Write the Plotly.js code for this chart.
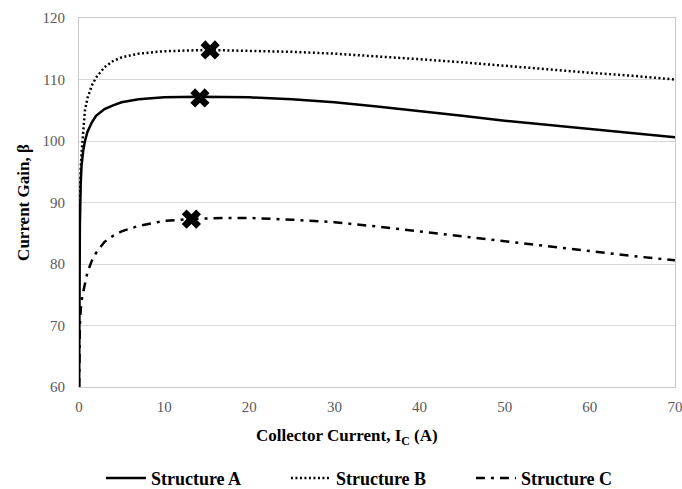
<!DOCTYPE html>
<html>
<head>
<meta charset="utf-8">
<script src="https://cdn.plot.ly/plotly-3.0.1.min.js"></script>
<style>html,body{margin:0;padding:0;background:#fff;}#chart{width:682px;height:489px;}</style>
</head>
<body>
<div id="chart"></div>
<script>
var xA = [0.02,0.05,0.1,0.2,0.3,0.5,0.7,1,1.5,2,3,4,5,7,10,14,20,25,30,35,40,45,50,55,60,65,70];
var yA = [60,75,86,93,96,98.5,100,101.5,103,104.1,105.2,105.8,106.3,106.8,107.1,107.2,107.1,106.8,106.3,105.6,104.9,104.1,103.3,102.6,101.9,101.2,100.6];
var xB = [0.05,0.1,0.2,0.3,0.5,0.7,1,1.5,2,3,4,5,7,10,15,20,25,30,35,40,45,50,55,60,65,70];
var yB = [88,92,95.5,98,102,105,107,109,110.3,112,113,113.6,114.2,114.6,114.8,114.7,114.5,114.2,113.8,113.3,112.8,112.2,111.7,111.1,110.6,110.0];
var xC = [0.02,0.05,0.1,0.2,0.3,0.5,0.7,1,1.5,2,3,4,5,7,10,13,17,20,25,30,35,40,45,50,55,60,65,70];
var yC = [60,66,70,72.5,74,75.5,77,78.7,80.5,81.8,83.6,84.6,85.3,86.2,87,87.3,87.5,87.5,87.2,86.8,86.1,85.3,84.5,83.6,82.8,82.0,81.3,80.6];
var peakX = [14.2,15.4,13.2];
var peakY = [107.0,114.8,87.3];
var names = ["Structure A","Structure B","Structure C"];
var xTitle = "Collector Current, I<sub>C</sub> (A)";
var yTitle = "Current Gain, β";

var serif = "Liberation Serif";
var traces = [
  {x:xA,y:yA,mode:"lines",name:names[0],line:{color:"#000",width:2.5}},
  {x:xB,y:yB,mode:"lines",name:names[1],line:{color:"#000",width:2.5,dash:"2px,2.5px"}},
  {x:xC,y:yC,mode:"lines",name:names[2],line:{color:"#000",width:2.5,dash:"9px,6px,3px,6px"}},
  {x:peakX,y:peakY,mode:"markers",showlegend:false,hoverinfo:"skip",
   marker:{symbol:"x",size:17,color:"#000",line:{width:0}}}
];
var layout = {
  width:682,height:489,
  margin:{l:79,r:7,t:18,b:102},
  paper_bgcolor:"#fff",plot_bgcolor:"#fff",
  font:{family:serif,color:"#595959",size:15},
  showlegend:true,
  legend:{orientation:"h",xref:"container",yref:"container",x:0.148,xanchor:"left",y:0.022,yanchor:"middle",
          font:{family:serif,size:18,color:"#000",weight:"bold"},itemwidth:40,entrywidth:130,tracegroupgap:0},
  xaxis:{range:[0,70],tick0:0,dtick:10,showgrid:false,zeroline:false,
         showline:true,linecolor:"#c8c8c8",linewidth:1,mirror:true,ticks:"",ticklabelstandoff:6,
         ticklabeloverflow:"allow",
         tickfont:{family:serif,size:15,color:"#595959"}},
  yaxis:{range:[60,120],tick0:60,dtick:10,showgrid:true,gridcolor:"#d9d9d9",gridwidth:1,zeroline:false,
         showline:true,linecolor:"#c8c8c8",linewidth:1,mirror:true,ticks:"",ticklabelstandoff:10,
         tickfont:{family:serif,size:15,color:"#595959"},
         title:{text:yTitle,font:{family:serif,size:17,color:"#000",weight:"bold"},standoff:8}},
  annotations:[{text:xTitle,xref:"paper",yref:"paper",x:0.449,y:-0.135,xanchor:"center",yanchor:"middle",
                showarrow:false,font:{family:serif,size:17,color:"#000",weight:"bold"}}]
};
Plotly.newPlot("chart",traces,layout,{displayModeBar:false,staticPlot:true});
</script>
</body>
</html>
